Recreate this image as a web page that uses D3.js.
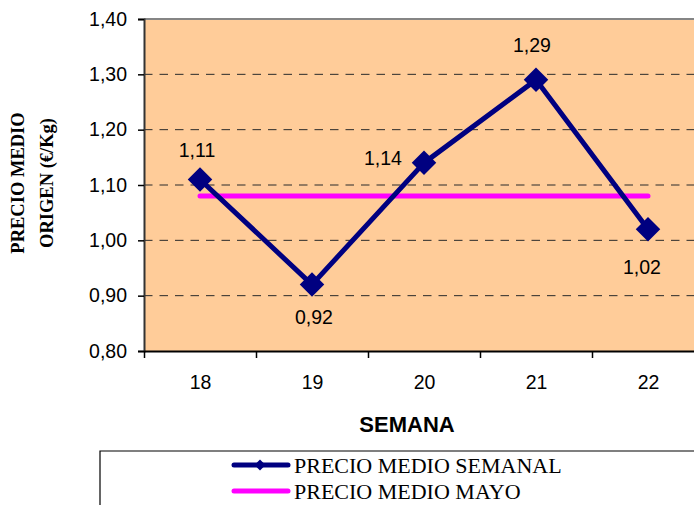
<!DOCTYPE html>
<html>
<head>
<meta charset="utf-8">
<script src="https://cdn.jsdelivr.net/npm/d3@7"></script>
<style>
  body { margin: 0; background: #fff; }
  svg { display: block; }
</style>
</head>
<body>
<svg id="chart"></svg>
<script>
// weeks and weekly mean price (EUR/kg)
let semanas = [18, 19, 20, 21, 22]
let precioSemanal = [1.11, 0.92, 1.14, 1.29, 1.02]
let precioMayo = 1.08
let yTicks = [0.80, 0.90, 1.00, 1.10, 1.20, 1.30, 1.40]
let serieNombres = ['PRECIO MEDIO SEMANAL', 'PRECIO MEDIO MAYO']

let width = 694
let height = 505

let plotLeft = 144
let plotRight = 704
let plotTop = 19
let plotBottom = 351

let navy = '#000080'
let magenta = '#ff00ff'

let svg = d3.select('#chart')
    .attr('width', width)
    .attr('height', height)

let xScale = d3.scaleLinear()
    .domain([17.5, 22.5])
    .range([plotLeft, plotRight])

let yScale = d3.scaleLinear()
    .domain([0.8, 1.4])
    .range([plotBottom, plotTop])

let fmt = (d) => d.toFixed(2).replace('.', ',')

// plot background
svg.append('rect')
    .attr('x', plotLeft)
    .attr('y', plotTop)
    .attr('width', plotRight - plotLeft)
    .attr('height', plotBottom - plotTop)
    .attr('fill', '#ffcc99')

// top border
svg.append('line')
    .attr('x1', plotLeft).attr('x2', plotRight)
    .attr('y1', plotTop).attr('y2', plotTop)
    .attr('stroke', '#858585')
    .attr('stroke-width', 2)

// dashed gridlines
svg.append('g')
    .selectAll('line')
    .data(yTicks.filter(d => d > 0.85 && d < 1.35))
    .enter()
    .append('line')
    .attr('x1', plotLeft)
    .attr('x2', plotRight)
    .attr('y1', d => yScale(d))
    .attr('y2', d => yScale(d))
    .attr('stroke', '#2a2a2a')
    .attr('stroke-width', 1)
    .attr('stroke-dasharray', '8.5,7')

// y axis
let yAxis = d3.axisLeft(yScale)
    .tickValues(yTicks)
    .tickFormat(fmt)
    .tickSize(6)
    .tickPadding(11)

let gy = svg.append('g')
    .attr('transform', 'translate(' + plotLeft + ',0)')
    .call(yAxis)
gy.select('.domain').attr('stroke', '#333').attr('stroke-width', 2)
gy.selectAll('.tick line').attr('stroke', '#000').attr('stroke-width', 1.5)
gy.selectAll('.tick text')
    .attr('font-family', 'Liberation Sans, Arial, sans-serif')
    .attr('font-size', 19.5)
    .attr('fill', '#000')

// x axis: tick marks at category boundaries, labels at centres
let xTickAxis = d3.axisBottom(xScale)
    .tickValues([17.5, 18.5, 19.5, 20.5, 21.5, 22.5])
    .tickFormat('')
    .tickSize(7)
    .tickSizeOuter(0)

let gx = svg.append('g')
    .attr('transform', 'translate(0,' + plotBottom + ')')
    .call(xTickAxis)
gx.select('.domain').attr('stroke', '#000').attr('stroke-width', 2)
gx.selectAll('.tick line').attr('stroke', '#000').attr('stroke-width', 1.5)

let xLabelAxis = d3.axisBottom(xScale)
    .tickValues(semanas)
    .tickFormat(d3.format('d'))
    .tickSize(0)
    .tickPadding(24)

let gxl = svg.append('g')
    .attr('transform', 'translate(0,' + plotBottom + ')')
    .call(xLabelAxis)
gxl.select('.domain').remove()
gxl.selectAll('.tick text')
    .attr('font-family', 'Liberation Sans, Arial, sans-serif')
    .attr('font-size', 19.5)
    .attr('fill', '#000')

// monthly mean line
svg.append('line')
    .attr('x1', xScale(semanas[0]))
    .attr('x2', xScale(semanas[semanas.length - 1]))
    .attr('y1', yScale(precioMayo))
    .attr('y2', yScale(precioMayo))
    .attr('stroke', magenta)
    .attr('stroke-width', 5)
    .attr('stroke-linecap', 'round')

// weekly series
let line = d3.line()
    .x((d, i) => xScale(semanas[i]))
    .y(d => yScale(d))

svg.append('path')
    .datum(precioSemanal)
    .attr('d', line)
    .attr('fill', 'none')
    .attr('stroke', navy)
    .attr('stroke-width', 5)
    .attr('stroke-linejoin', 'round')

let diamond = d3.symbol().type(d3.symbolSquare).size(300)

svg.append('g')
    .selectAll('path')
    .data(precioSemanal)
    .enter()
    .append('path')
    .attr('d', diamond)
    .attr('transform', (d, i) => 'translate(' + xScale(semanas[i]) + ',' + yScale(d) + ') rotate(45)')
    .attr('fill', navy)

// data labels (offset from each point)
let labelDx = [-3, 2, -41, -4, -6]
let labelDy = [-29, 33, -5, -35, 38]

svg.append('g')
    .selectAll('text')
    .data(precioSemanal)
    .enter()
    .append('text')
    .attr('x', (d, i) => xScale(semanas[i]) + labelDx[i])
    .attr('y', (d, i) => yScale(d) + labelDy[i])
    .attr('dy', '0.35em')
    .attr('text-anchor', 'middle')
    .attr('font-family', 'Liberation Sans, Arial, sans-serif')
    .attr('font-size', 19.5)
    .attr('fill', '#000')
    .text(fmt)

// axis titles
svg.append('text')
    .attr('x', 407)
    .attr('y', 432)
    .attr('text-anchor', 'middle')
    .attr('font-family', 'Liberation Sans, Arial, sans-serif')
    .attr('font-weight', 'bold')
    .attr('font-size', 22)
    .text('SEMANA')

let yTitle = svg.append('text')
    .attr('transform', 'translate(0,183) rotate(-90)')
    .attr('text-anchor', 'middle')
    .attr('font-family', 'Liberation Serif, Times New Roman, serif')
    .attr('font-weight', 'bold')
    .attr('font-size', 18.5)
yTitle.append('tspan').attr('x', 0).attr('y', 24).text('PRECIO MEDIO')
yTitle.append('tspan').attr('x', 0).attr('y', 53).text('ORIGEN (€/Kg)')

// legend
let legend = svg.append('g')
legend.append('path')
    .attr('d', 'M100,' + height + 'V451H' + width)
    .attr('fill', 'none')
    .attr('stroke', '#000')
    .attr('stroke-width', 1.2)

let legendY = [465, 491]
let legendColor = [navy, magenta]

serieNombres.forEach((name, i) => {
    legend.append('line')
        .attr('x1', 234).attr('x2', 288)
        .attr('y1', legendY[i]).attr('y2', legendY[i])
        .attr('stroke', legendColor[i])
        .attr('stroke-width', 5)
        .attr('stroke-linecap', 'round')
    if (i === 0) {
        legend.append('path')
            .attr('d', d3.symbol().type(d3.symbolSquare).size(60))
            .attr('transform', 'translate(260,' + legendY[i] + ') rotate(45)')
            .attr('fill', navy)
    }
    legend.append('text')
        .attr('x', 294)
        .attr('y', legendY[i] + 8)
        .attr('font-family', 'Liberation Serif, Times New Roman, serif')
        .attr('font-size', 22)
        .attr('fill', '#000')
        .text(name)
})
</script>
</body>
</html>
